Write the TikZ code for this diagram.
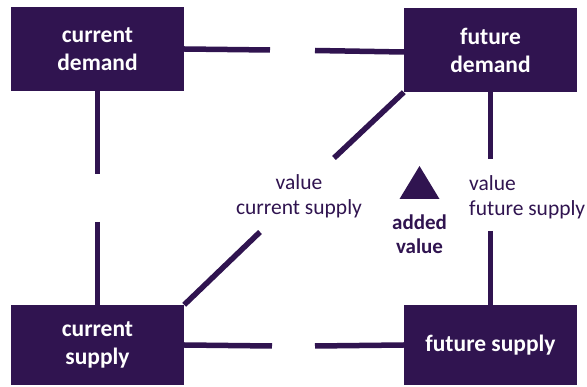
\documentclass[tikz,border=0pt]{standalone}
\usepackage{fontspec}
\setmainfont{Carlito}
\usepackage{tikz}
\usetikzlibrary{calc}
\usepackage{xcolor}
\definecolor{deep}{RGB}{48,20,80}

\begin{document}
\begin{tikzpicture}[x=1pt, y=-1pt]
        % ================= 样式定义 =================
        \tikzset{
            % 方框样式:深紫底白字
            box/.style={draw=none, fill=deep, text=white, align=center, inner sep=0pt,
                minimum width=173pt, minimum height=84pt, font=\fontsize{23.5}{28}\selectfont\bfseries},
            % 标注文字
            note/.style={text=deep, inner sep=0pt, font=\fontsize{21.5}{25}\selectfont},
            % 粗体标注
            boldnote/.style={text=deep, inner sep=0pt, align=center, font=\fontsize{21}{24.5}\selectfont\bfseries},
            % 边样式
            link/.style={line width=5.5pt, deep}
        }
        \useasboundingbox (0,0) rectangle (587,387);

        % ================= 1. 四个方框 =================
        \node[box] (cd) at (97.5, 49) {current\\demand};
        \node[box] (fd) at (490.5, 50) {future\\demand};
        \node[box, minimum height=80pt] (cs) at (97.5, 345) {current\\supply};
        \node[box, minimum height=80pt] (fs) at (490.5, 345) {future supply};

        % ================= 2. 标注 =================
        \node[note, align=center] (vcs) at (299, 196) {value\\current supply};
        \node[note, align=left, anchor=west] (vfs) at (469, 197) {value\\future supply};
        \node[boldnote] (av) at (419.5, 234) {added\\value};

        % 三角形
        \coordinate (tri) at (419.5, 166);
        \fill[deep] (tri) -- (439.5, 199) -- (399.5, 199) -- cycle;

        % ================= 3. 断开的连线 =================
        % 断点坐标
        \coordinate (t1) at (270, 50);
        \coordinate (t2) at (315, 50.5);
        \coordinate (l1) at (cd.south |- 0, 174);
        \coordinate (l2) at (cd.south |- 0, 222);
        \coordinate (r1) at (fd.south |- 0, 159);
        \coordinate (r2) at (fd.south |- 0, 231);
        \coordinate (d1) at (334, 158);
        \coordinate (d2) at (260, 232);
        \coordinate (b1) at (272, 346);
        \coordinate (b2) at (315, 346);

        % --- 上边 ---
        \draw[link] (cd.east) -- (t1);
        \draw[link] (t2) -- ($(fd.west)+(0,2)$);

        % --- 左边 ---
        \draw[link] (cd.south) -- (l1);
        \draw[link] (l2) -- (cs.north);

        % --- 右边 ---
        \draw[link] (fd.south) -- (r1);
        \draw[link] (r2) -- (fs.north);

        % --- 对角线 ---
        \draw[link] (fd.south west) -- (d1);
        \draw[link] (d2) -- (cs.north east);

        % --- 下边 ---
        \draw[link] (cs.east) -- (b1);
        \draw[link] (b2) -- (fs.west);

    \end{tikzpicture}
\end{document}
